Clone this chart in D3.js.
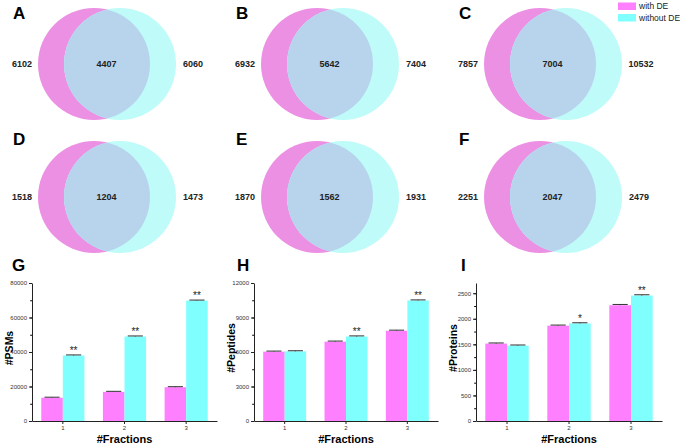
<!DOCTYPE html>
<html>
<head>
<meta charset="utf-8">
<script src="https://cdn.jsdelivr.net/npm/d3@7"></script>
<style>
  body { margin: 0; background: #fff; }
  svg { display: block; font-family: Arial, "Liberation Sans", sans-serif; }
</style>
</head>
<body>
<svg id="fig" width="685" height="444"></svg>
<script>
// venn counts (rows A-C peptides/PSM style, D-F proteins)
const vennLetters = ['A', 'B', 'C', 'D', 'E', 'F'];
const onlyWith = [6102, 6932, 7857, 1518, 1870, 2251];
const shared = [4407, 5642, 7004, 1204, 1562, 2047];
const onlyWithout = [6060, 7404, 10532, 1473, 1931, 2479];

// bar charts
const fractions = ['1', '2', '3'];
const seriesNames = ['with DE', 'without DE'];

const psmWith = [13500, 16900, 19600];
const psmWithout = [38000, 49000, 69800];
const psmErr = [300, 300, 300];
const psmStars = ['**', '**', '**'];

const pepWith = [6030, 6900, 7850];
const pepWithout = [6060, 7350, 10480];
const pepErr = [50, 50, 50];
const pepStars = ['', '**', '**'];

const protWith = [1515, 1865, 2265];
const protWithout = [1475, 1910, 2455];
const protErr = [12, 12, 15];
const protStars = ['', '*', '**'];

const pink = '#ff80ff';
const cyan = '#80ffff';

const svg = d3.select('#fig');

// ---------- legend ----------
const legend = svg.append('g').attr('transform', 'translate(618,2.5)');
seriesNames.forEach((name, i) => {
  legend.append('rect')
    .attr('x', 0).attr('y', i * 11.5)
    .attr('width', 18).attr('height', 7.5)
    .attr('fill', i === 0 ? pink : cyan);
  legend.append('text')
    .attr('x', 21).attr('y', i * 11.5 + 3.8)
    .attr('dy', '0.35em')
    .attr('font-size', 8.5)
    .attr('fill', '#222')
    .text(name);
});

// ---------- venn diagrams ----------
const vennR = 56;
const vennShift = 26;
const colX = [0, 223, 446];
const rowY = [64, 197];
const letterY = [19, 145];

const defs = svg.append('defs');

vennLetters.forEach((letter, i) => {
  const col = i % 3;
  const row = Math.floor(i / 3);
  const cxL = 94 + colX[col];
  const cxR = cxL + vennShift;
  const cy = rowY[row];

  const g = svg.append('g');

  defs.append('clipPath').attr('id', `clipL${i}`)
    .append('circle').attr('cx', cxL).attr('cy', cy).attr('r', vennR);

  g.append('circle').attr('cx', cxL).attr('cy', cy).attr('r', vennR)
    .attr('fill', '#ec90e4');
  g.append('circle').attr('cx', cxR).attr('cy', cy).attr('r', vennR)
    .attr('fill', '#bffbf8');
  g.append('circle').attr('cx', cxR).attr('cy', cy).attr('r', vennR)
    .attr('clip-path', `url(#clipL${i})`)
    .attr('fill', '#b8d4ed');

  g.append('text')
    .attr('x', colX[col] + 13).attr('y', letterY[row])
    .attr('font-size', 17).attr('font-weight', 'bold')
    .text(letter);

  const nums = [
    [cxL - 72, onlyWith[i]],
    [cxL + 12.5, shared[i]],
    [cxR + 73 + (onlyWithout[i] > 9999 ? 2 : 0), onlyWithout[i]]
  ];
  nums.forEach(([x, v]) => {
    g.append('text')
      .attr('x', x).attr('y', cy)
      .attr('dy', '0.35em')
      .attr('text-anchor', 'middle')
      .attr('font-size', 9).attr('font-weight', 'bold')
      .attr('fill', '#222')
      .text(v);
  });
});

// ---------- bar charts ----------
const barPanels = [
  { letter: 'G', lx: 12, title: '#PSMs', x0: 32, x1: 217, max: 80000, step: 20000,
    a: psmWith, b: psmWithout, err: psmErr, stars: psmStars },
  { letter: 'H', lx: 237, title: '#Peptides', x0: 254, x1: 438, max: 12000, step: 3000,
    a: pepWith, b: pepWithout, err: pepErr, stars: pepStars },
  { letter: 'I', lx: 461, title: '#Proteins', x0: 476, x1: 662, max: 2700, step: 500,
    a: protWith, b: protWithout, err: protErr, stars: protStars }
];

const yBase = 421;
const yTop = 283;

barPanels.forEach(p => {
  const g = svg.append('g');

  const x = d3.scaleBand().domain(fractions).range([p.x0, p.x1]);
  const y = d3.scaleLinear().domain([0, p.max]).range([yBase, yTop]);
  const bw = x.bandwidth() * 0.35;

  const rows = fractions.map((f, i) => ({ f, a: p.a[i], b: p.b[i], err: p.err[i], star: p.stars[i] }));

  // bars
  const grp = g.selectAll('g.grp')
    .data(rows)
    .join('g')
    .attr('class', 'grp');

  grp.append('rect')
    .attr('x', d => x(d.f) + x.bandwidth() / 2 - bw)
    .attr('y', d => y(d.a))
    .attr('width', bw)
    .attr('height', d => yBase - y(d.a))
    .attr('fill', pink);

  grp.append('rect')
    .attr('x', d => x(d.f) + x.bandwidth() / 2)
    .attr('y', d => y(d.b))
    .attr('width', bw)
    .attr('height', d => yBase - y(d.b))
    .attr('fill', cyan);

  // error caps
  [['a', -1], ['b', 0]].forEach(([key, off]) => {
    grp.append('line')
      .attr('x1', d => x(d.f) + x.bandwidth() / 2 + off * bw + bw / 2)
      .attr('x2', d => x(d.f) + x.bandwidth() / 2 + off * bw + bw / 2)
      .attr('y1', d => y(d[key]))
      .attr('y2', d => y(d[key] + d.err))
      .attr('stroke', '#333').attr('stroke-width', 1);
    grp.append('line')
      .attr('x1', d => x(d.f) + x.bandwidth() / 2 + off * bw + bw * 0.15)
      .attr('x2', d => x(d.f) + x.bandwidth() / 2 + off * bw + bw * 0.85)
      .attr('y1', d => y(d[key] + d.err))
      .attr('y2', d => y(d[key] + d.err))
      .attr('stroke', '#333').attr('stroke-width', 1);
  });

  // significance marks
  grp.append('text')
    .attr('x', d => x(d.f) + x.bandwidth() / 2 + bw / 2)
    .attr('y', d => y(d.b + d.err) - 1)
    .attr('text-anchor', 'middle')
    .attr('font-size', 10)
    .attr('fill', '#222')
    .text(d => d.star);

  // axes
  const minor = g.append('g')
    .attr('transform', `translate(${p.x0},0)`)
    .call(d3.axisLeft(y).tickValues(d3.range(0, p.max + 1, p.step / 2)).tickSize(1.8).tickSizeOuter(0).tickFormat(''));
  minor.select('.domain').remove();

  const yAxis = g.append('g')
    .attr('transform', `translate(${p.x0},0)`)
    .call(d3.axisLeft(y).tickValues(d3.range(0, p.max + 1, p.step)).tickSize(3).tickSizeOuter(0).tickPadding(2)
      .tickFormat(d3.format('d')));

  const xAxis = g.append('g')
    .attr('transform', `translate(0,${yBase})`)
    .call(d3.axisBottom(x).tickSize(3).tickSizeOuter(0).tickPadding(2));

  [yAxis, xAxis].forEach(ax => {
    ax.selectAll('text').attr('font-size', 6).attr('fill', '#333')
      .attr('font-family', 'Arial, "Liberation Sans", sans-serif');
    ax.selectAll('line, path').attr('stroke', '#222');
  });

  // titles
  g.append('text')
    .attr('transform', `translate(${p.x0 - 23},${(yBase + yTop) / 2 - 4}) rotate(-90)`)
    .attr('text-anchor', 'middle')
    .attr('dy', '0.35em')
    .attr('font-size', 10.5).attr('font-weight', 'bold')
    .text(p.title);

  g.append('text')
    .attr('x', (p.x0 + p.x1) / 2).attr('y', 439)
    .attr('dy', '0.35em')
    .attr('text-anchor', 'middle')
    .attr('font-size', 11).attr('font-weight', 'bold')
    .text('#Fractions');

  g.append('text')
    .attr('x', p.lx).attr('y', 271)
    .attr('font-size', 17).attr('font-weight', 'bold')
    .text(p.letter);
});
</script>
</body>
</html>
